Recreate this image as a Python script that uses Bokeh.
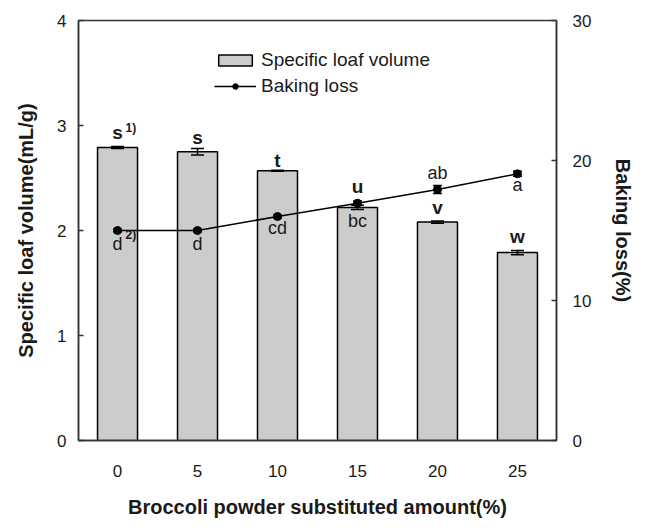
from bokeh.plotting import figure
from bokeh.models import (Range1d, LinearAxis, FixedTicker, Whisker, ColumnDataSource,
                          Legend, LegendItem, TeeHead)
from bokeh.core.properties import value
from bokeh.embed import file_html
from bokeh.resources import INLINE

# ---------------- data ----------------
amount = [0, 5, 10, 15, 20, 25]
volume = [2.79, 2.75, 2.57, 2.22, 2.08, 1.79]
volume_err = [0.01, 0.03, 0.005, 0.02, 0.01, 0.02]
loss = [15.0, 15.0, 16.0, 16.95, 17.93, 19.05]
loss_err = [0.1, 0.1, 0.1, 0.15, 0.28, 0.18]
volume_letters = ["s", "s", "t", "u", "v", "w"]
loss_letters = ["d", "d", "cd", "bc", "ab", "a"]
note_volume = "1)"
note_loss = "2)"
x_ticks = [0, 5, 10, 15, 20, 25]
left_ticks = [0, 1, 2, 3, 4]
right_ticks = [0, 10, 20, 30]

# ---------------- style ----------------
FONT = "Liberation Sans"
TXT = "#1a1a1a"
SHIFT = -6
vol_dy = [d + SHIFT for d in [-8, -5, -4, -13, -8, -8]]
loss_dy = [d + SHIFT for d in [19, 19, 17, 24, -10, 17]]

p = figure(width=640, height=532, x_range=Range1d(-2.44, 27.44), y_range=Range1d(0, 4),
           output_backend="svg", toolbar_location=None,
           min_border_left=78, min_border_right=84, min_border_top=20, min_border_bottom=92)
p.extra_y_ranges = {"loss": Range1d(0, 30)}
p.grid.visible = False
p.outline_line_color = "#333333"
p.outline_line_width = 1.5
p.background_fill_color = "white"

# x axis
xa = p.xaxis[0]
xa.ticker = FixedTicker(ticks=x_ticks)
xa.axis_label = "Broccoli powder substituted amount(%)"
xa.major_tick_in = 0
xa.major_tick_out = 0
xa.minor_tick_line_color = None
xa.major_label_standoff = 24
xa.axis_label_standoff = 16

# left axis
ya = p.yaxis[0]
ya.ticker = FixedTicker(ticks=left_ticks)
ya.axis_label = "Specific loaf volume(mL/g)"
ya.major_tick_in = 5
ya.major_tick_out = 0
ya.minor_tick_line_color = None
ya.major_label_standoff = 12
ya.axis_label_standoff = 17

# right axis
ra = LinearAxis(y_range_name="loss", ticker=FixedTicker(ticks=right_ticks),
                axis_label="Baking loss(%)")
ra.major_tick_in = 5
ra.major_tick_out = 0
ra.minor_tick_line_color = None
ra.major_label_standoff = 16
ra.axis_label_standoff = 18
p.add_layout(ra, "right")

for ax in [xa, ya, ra]:
    ax.axis_line_color = "#333333"
    ax.axis_line_width = 1.5
    ax.major_tick_line_color = "#333333"
    ax.major_tick_line_width = 1.5
    ax.major_label_text_font = FONT
    ax.major_label_text_font_size = "17px"
    ax.major_label_text_color = TXT
    ax.axis_label_text_font = FONT
    ax.axis_label_text_font_size = "20px"
    ax.axis_label_text_font_style = "bold"
    ax.axis_label_text_color = TXT

# bars
bars = p.vbar(x=amount, top=volume, bottom=0, width=2.5, fill_color="#cccccc",
              line_color="black", line_width=1.5)

vsrc = ColumnDataSource(dict(x=amount,
                             lo=[v - e for v, e in zip(volume, volume_err)],
                             hi=[v + e for v, e in zip(volume, volume_err)]))
p.add_layout(Whisker(base="x", lower="lo", upper="hi", source=vsrc, level="annotation",
                     line_color="black", line_width=1.5,
                     upper_head=TeeHead(size=13, line_width=1.5, line_color="black"),
                     lower_head=TeeHead(size=13, line_width=1.5, line_color="black")))

# baking loss line
ln = p.line(amount, loss, y_range_name="loss", line_color="black", line_width=1.5)
pts = p.scatter(amount, loss, y_range_name="loss", size=8, fill_color="black",
                line_color="black")
lsrc = ColumnDataSource(dict(x=amount,
                             lo=[v - e for v, e in zip(loss, loss_err)],
                             hi=[v + e for v, e in zip(loss, loss_err)]))
p.add_layout(Whisker(base="x", lower="lo", upper="hi", source=lsrc, y_range_name="loss",
                     level="annotation", line_color="black", line_width=1.5,
                     upper_head=TeeHead(size=9, line_width=1.5, line_color="black"),
                     lower_head=TeeHead(size=9, line_width=1.5, line_color="black")))

# letters on bars
tsrc = ColumnDataSource(dict(x=amount, y=[v + e for v, e in zip(volume, volume_err)],
                             t=volume_letters, dy=vol_dy))
p.text(x="x", y="y", text="t", y_offset="dy", source=tsrc, text_font=value(FONT),
       text_font_style="bold", text_font_size="19px", text_align="center",
       text_baseline="alphabetic", text_color=TXT)
p.text(x=[amount[0]], y=[volume[0] + volume_err[0]], text=[note_volume], x_offset=8,
       y_offset=-13 + SHIFT, text_font=value(FONT), text_font_style="bold",
       text_font_size="12px", text_align="left", text_baseline="alphabetic", text_color=TXT)

# letters on baking loss
lsrc2 = ColumnDataSource(dict(x=amount, y=loss, t=loss_letters, dy=loss_dy))
p.text(x="x", y="y", text="t", y_offset="dy", source=lsrc2, y_range_name="loss",
       text_font=value(FONT), text_font_size="18px", text_align="center",
       text_baseline="alphabetic", text_color=TXT)
p.text(x=[amount[0]], y=[loss[0]], text=[note_loss], x_offset=8, y_offset=10 + SHIFT,
       y_range_name="loss", text_font=value(FONT), text_font_style="bold",
       text_font_size="12px", text_align="left", text_baseline="alphabetic", text_color=TXT)

# legend
legend = Legend(items=[LegendItem(label="Specific loaf volume", renderers=[bars]),
                       LegendItem(label="Baking loss", renderers=[ln, pts])],
                location=(136, 343), glyph_width=42, glyph_height=14, label_height=14,
                spacing=4, padding=0, margin=0, label_standoff=5,
                border_line_alpha=0, background_fill_alpha=0,
                label_text_font=FONT, label_text_font_size="19px", label_text_color=TXT)
p.add_layout(legend)

open("out.html", "w").write(file_html(p, INLINE))
